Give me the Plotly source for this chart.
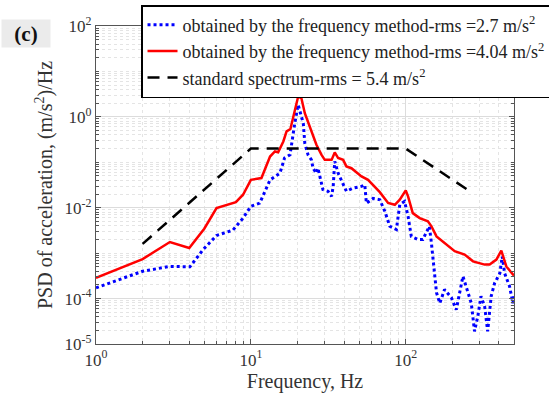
import plotly.graph_objects as go

# ---------------- data ----------------
red_f = [1, 2, 3, 4, 5, 6, 8, 8.9, 10, 11.7, 13.3, 14.3, 15.0, 16.2, 17.0, 18.0,
         20.2, 21.2, 22.3, 24.0, 25.2, 26.5, 28.6, 30.0, 33.2, 34.8, 36.6, 39.4,
         41.4, 44.6, 51.8, 57.1, 68, 76.9, 85, 91.5, 100, 103.5, 111, 123, 139,
         146.5, 158, 183, 207, 240, 272, 323, 348, 385, 414, 446, 492, 500]
red_p = [2.85e-4, 7.4e-4, 1.76e-3, 1.3e-3, 3.45e-3, 9.8e-3, 0.0133, 0.0193, 0.041,
         0.045, 0.134, 0.173, 0.166, 0.287, 0.48, 0.54, 2.8, 2.57, 1.2, 0.61, 0.40,
         0.243, 0.146, 0.113, 0.113, 0.165, 0.124, 0.113, 0.081, 0.074, 0.049,
         0.041, 0.022, 0.0127, 0.0116, 0.015, 0.024, 0.0178, 0.0076, 0.0059,
         0.0050, 0.0039, 0.00234, 0.00155, 0.0011, 0.00093, 0.00066, 0.00056,
         0.00056, 0.00072, 0.00114, 0.00051, 0.00034, 0.00032]

blue_f = [1, 2, 3, 4.04, 4.92, 6.0, 7.65, 8.9, 10, 11.4, 13.3, 14.3, 15.4, 16.5,
          17.9, 19.2, 20.2, 21.8, 22.3, 23.4, 24.6, 25.2, 26.5, 27.1, 27.8, 29.2,
          31.5, 33.2, 34.0, 34.8, 36.6, 38.4, 41.4, 45.6, 51.8, 54.4, 55.7, 61.5,
          68, 73.3, 78.9, 87, 91.5, 98.2, 103.5, 108.6, 120, 129, 142, 146.5, 150,
          158, 166, 178, 197, 212, 234, 246, 265, 278, 292, 306, 323, 338, 356,
          375, 405, 420, 435, 468, 492, 500]
blue_p = [1.72e-4, 4.0e-4, 5.1e-4, 5.0e-4, 1.2e-3, 2.45e-3, 3.2e-3, 5.9e-3, 0.0107,
          0.0126, 0.041, 0.049, 0.0575, 0.124, 0.146, 0.72, 1.84, 0.72, 0.26,
          0.146, 0.113, 0.074, 0.0575, 0.074, 0.049, 0.025, 0.023, 0.0178, 0.0295,
          0.105, 0.0575, 0.040, 0.023, 0.027, 0.0295, 0.032, 0.0126, 0.016, 0.015,
          0.0083, 0.0039, 0.0033, 0.0117, 0.0138, 0.0065, 0.00234, 0.002, 0.002,
          0.0039, 0.00166, 7.2e-4, 1.35e-4, 7.9e-5, 1.58e-4, 1.05e-4, 5.7e-5,
          3.1e-4, 1.86e-4, 7.9e-5, 1.9e-5, 4.1e-5, 1.12e-4, 6.8e-5, 1.9e-5,
          1.12e-4, 2.2e-4, 3.6e-4, 8.5e-4, 3.6e-4, 1.86e-4, 7.9e-5, 1.12e-4]

std_f = [2, 10, 100, 250]
std_p = [0.0016, 0.2, 0.2, 0.025]

x_tickvals = [1, 10, 100]
x_ticktext = ["10<sup>0</sup>", "10<sup>1</sup>", "10<sup>2</sup>"]
y_tickvals = [1e-5, 1e-4, 1e-2, 1e0, 1e2]
y_ticktext = ["10<sup>-5</sup>", "10<sup>-4</sup>", "10<sup>-2</sup>",
              "10<sup>0</sup>", "10<sup>2</sup>"]

names = ["obtained by the frequency method-rms =2.7 m/s<sup>2</sup>",
         "obtained by the frequency method-rms =4.04 m/s<sup>2</sup>",
         "standard spectrum-rms = 5.4 m/s<sup>2</sup>"]

# ---------------- figure ----------------
FONT = "Liberation Serif"
fig = go.Figure()
fig.add_trace(go.Scatter(x=blue_f, y=blue_p, mode="lines", name=names[0],
                         line=dict(color="#0000ff", width=3, dash="3px,3px")))
fig.add_trace(go.Scatter(x=red_f, y=red_p, mode="lines", name=names[1],
                         line=dict(color="#ff0000", width=2.5)))
fig.add_trace(go.Scatter(x=std_f, y=std_p, mode="lines", name=names[2],
                         line=dict(color="#000000", width=2.5, dash="12px,8px")))

minor_x = [k * 10 ** d for d in range(0, 3) for k in range(2, 10) if k * 10 ** d <= 500]
minor_y = [k * 10.0 ** d for d in range(-5, 2) for k in range(1, 10)]
minor_y = [v for v in minor_y if v not in (1e-5, 1e-4, 1e-2, 1.0)]

axis_common = dict(
    showline=True, linecolor="#555555", linewidth=1.3, mirror="ticks",
    ticks="inside", ticklen=5, tickcolor="#555555",
    showgrid=True, gridcolor="#dcdcdc", gridwidth=1,
    tickfont=dict(family=FONT, size=17, color="#333333"),
    zeroline=False, automargin=False,
)

fig.update_xaxes(type="log", range=[0, 2.69897], tickmode="array",
                 tickvals=x_tickvals, ticktext=x_ticktext,
                 minor=dict(tickmode="array", tickvals=minor_x, ticks="inside",
                            ticklen=3, tickcolor="#555555", showgrid=True,
                            gridcolor="#e4e4e4", griddash="dot", gridwidth=1),
                 title=dict(text="Frequency, Hz",
                            font=dict(family=FONT, size=20, color="#333333"),
                            standoff=5),
                 **axis_common)
fig.update_yaxes(type="log", range=[-5, 2], tickmode="array",
                 tickvals=y_tickvals, ticktext=y_ticktext,
                 minor=dict(tickmode="array", tickvals=minor_y, ticks="inside",
                            ticklen=3, tickcolor="#555555", showgrid=True,
                            gridcolor="#e4e4e4", griddash="dot", gridwidth=1),
                 title=dict(text="PSD of acceleration, (m/s<sup>2</sup>)/Hz",
                            font=dict(family=FONT, size=20, color="#333333"),
                            standoff=6),
                 **axis_common)

fig.update_layout(
    width=549, height=403,
    margin=dict(l=96, r=35, t=26, b=59, autoexpand=False),
    paper_bgcolor="white", plot_bgcolor="white",
    showlegend=True,
    legend=dict(x=0.1077, y=1.066, xanchor="left", yanchor="top",
                bgcolor="white", bordercolor="#000000", borderwidth=1.5,
                font=dict(family=FONT, size=18, color="#222222"),
                itemwidth=30, tracegroupgap=0),
    font=dict(family=FONT),
)

fig.add_annotation(text="<b>(c)</b>", xref="paper", yref="paper",
                   x=-0.1675, y=0.9764, xanchor="center", yanchor="middle",
                   width=44, height=23, borderpad=2,
                   showarrow=False, bgcolor="#ebebeb",
                   font=dict(family=FONT, size=21, color="#111111"))

fig.write_html("out.html", config={"displayModeBar": False},
               post_script="document.body.style.margin='0px';")
